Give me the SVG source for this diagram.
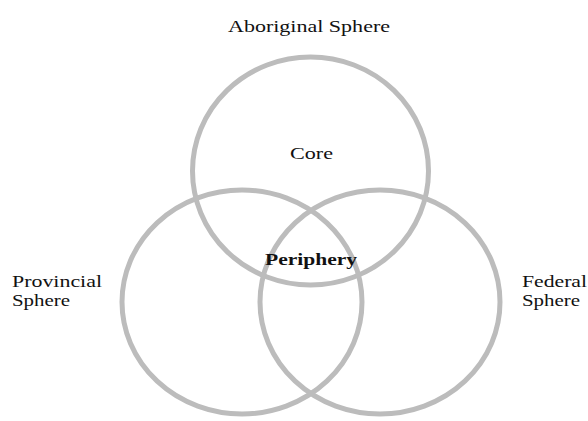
<svg xmlns="http://www.w3.org/2000/svg" width="588" height="421" viewBox="0 0 588 421">
<style>
.ring{fill:none;stroke:#bcbcbc;stroke-width:5}
.t{font-family:"Liberation Serif","DejaVu Serif",serif;font-size:16px;fill:#111}
.b{font-weight:bold}
</style>
<rect width="588" height="421" fill="#ffffff"/>
<g id="aboriginal">
<ellipse class="ring" cx="310.5" cy="171" rx="118" ry="114"/>
<text class="t" x="228" y="32" textLength="162" lengthAdjust="spacingAndGlyphs">Aboriginal Sphere</text>
<text class="t" x="290" y="159" textLength="43" lengthAdjust="spacingAndGlyphs">Core</text>
</g>
<g id="provincial">
<ellipse class="ring" cx="242" cy="302" rx="120" ry="112"/>
<text class="t" x="12" y="287" textLength="90" lengthAdjust="spacingAndGlyphs">Provincial</text>
<text class="t" x="12" y="306" textLength="58" lengthAdjust="spacingAndGlyphs">Sphere</text>
</g>
<g id="federal">
<ellipse class="ring" cx="380" cy="302" rx="120" ry="112"/>
<text class="t" x="522" y="287" textLength="65" lengthAdjust="spacingAndGlyphs">Federal</text>
<text class="t" x="522" y="306" textLength="58" lengthAdjust="spacingAndGlyphs">Sphere</text>
</g>
<g id="periphery">
<text class="t b" x="265" y="265" textLength="92" lengthAdjust="spacingAndGlyphs">Periphery</text>
</g>
</svg>
